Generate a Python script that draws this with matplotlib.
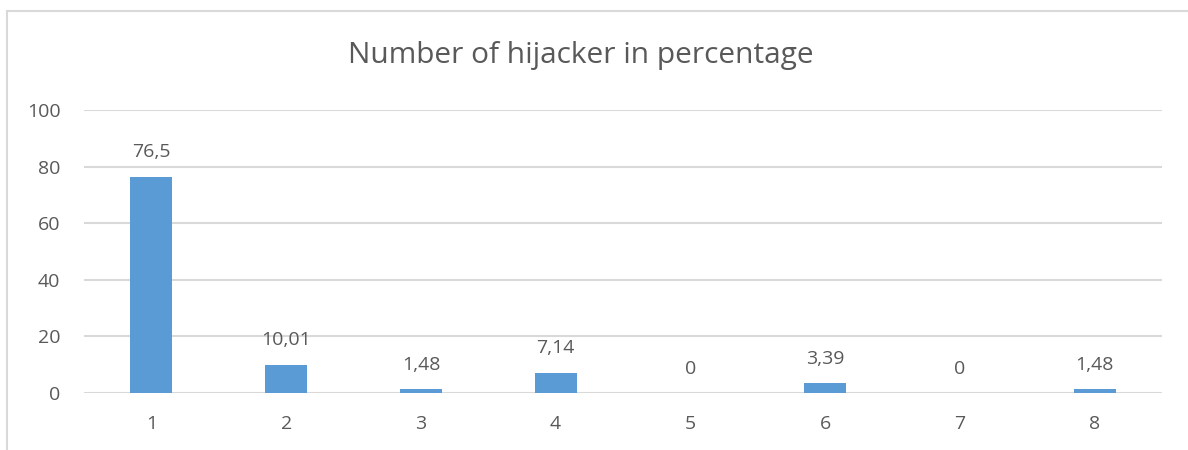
import matplotlib.pyplot as plt
from matplotlib.patches import Rectangle

categories = ["1", "2", "3", "4", "5", "6", "7", "8"]
values = [76.5, 10.01, 1.48, 7.14, 0, 3.39, 0, 1.48]
labels = ["76,5", "10,01", "1,48", "7,14", "0", "3,39", "0", "1,48"]
yticks = [0, 20, 40, 60, 80, 100]

plt.rcParams["font.family"] = ["Open Sans", "DejaVu Sans"]
text_color = "#595959"
grid_color = "#d9d9d9"

fig = plt.figure(figsize=(11.88, 4.5), dpi=100)

# outer chart border (Excel style)
fig.patches.append(Rectangle((7 / 1188, -0.1), 1.2, 1 - 11 / 450 + 0.1,
                             transform=fig.transFigure, fill=False,
                             edgecolor=grid_color, linewidth=1.5))

ax = fig.add_axes([84 / 1188, 57 / 450, 1078 / 1188, 283 / 450])
x = list(range(len(categories)))
bars = ax.bar(x, values, width=0.31, color="#5b9bd5", zorder=3)

for xi, v, lab in zip(x, values, labels):
    ax.annotate(lab, (xi, v), xytext=(0, 17.5), textcoords="offset points",
                ha="center", va="center", fontsize=14, color=text_color)

ax.set_xlim(-0.5, len(categories) - 0.5)
ax.set_ylim(0, 100)
ax.set_yticks(yticks)
ax.set_xticks(x)
ax.set_xticklabels(categories)
ax.tick_params(axis="both", length=0, labelsize=14, colors=text_color)
ax.tick_params(axis="x", pad=16)
ax.tick_params(axis="y", pad=17)
ax.yaxis.grid(True, color=grid_color, linewidth=1.5, zorder=0)
for s in ax.spines.values():
    s.set_visible(False)

fig.text(581 / 1188, 1 - 56 / 450, "Number of hijacker in percentage",
         ha="center", va="center", fontsize=21.5, color=text_color)

fig.savefig("out.png", dpi=100)
